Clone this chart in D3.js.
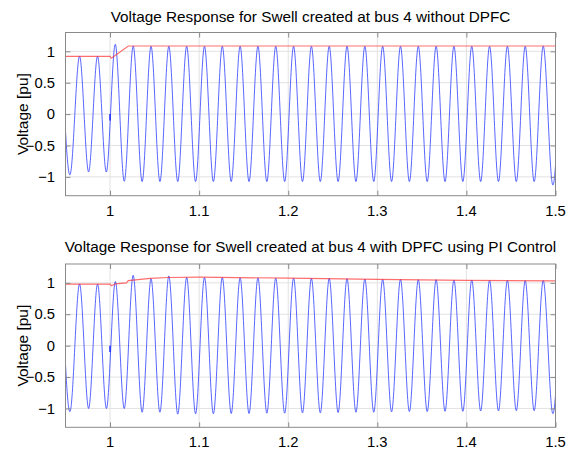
<!DOCTYPE html>
<html>
<head>
<meta charset="utf-8">
<script src="https://cdn.jsdelivr.net/npm/d3@7"></script>
<style>
  html, body { margin: 0; padding: 0; background: #fff; }
  svg { display: block; font-family: "Liberation Sans", Arial, Helvetica, sans-serif; }
</style>
</head>
<body>
<svg id="chart" width="572" height="451"></svg>
<script>
// Axis ticks
const xTicks = [1, 1.1, 1.2, 1.3, 1.4, 1.5];
const yTicks = [-1, -0.5, 0, 0.5, 1];
const xDomain = [0.95, 1.5];
const yDomain = [-1.3, 1.3];

const titles = [
  "Voltage Response for Swell created at bus 4 without DPFC",
  "Voltage Response for Swell created at bus 4 with DPFC using PI Control"
];
const yLabel = "Voltage [pu]";

// Instantaneous voltage: successive half-cycle extremes (50 Hz),
// first extreme at extremaStart, one every extremaStep seconds.
const extremaStart = 0.946;
const extremaStep = 0.01;

const waveWithout = [
  0.92, -0.92, 0.92, -0.92, 0.92, -0.92,
  1.11, -1.07, 1.085, -1.075, 1.08, -1.075, 1.08, -1.075, 1.08, -1.075,
  1.08, -1.075, 1.08, -1.075, 1.08, -1.075, 1.08, -1.075, 1.08, -1.075,
  1.08, -1.075, 1.08, -1.075, 1.08, -1.075, 1.08, -1.075, 1.08, -1.075,
  1.08, -1.075, 1.08, -1.075, 1.08, -1.075, 1.08, -1.075, 1.08, -1.075,
  1.08, -1.075, 1.08, -1.075, 1.08, -1.075, 1.08, -1.075, 1.08, -1.075,
  1.08
];

const waveWithPI = [
  0.98, -1.0, 0.98, -1.0, 0.98, -1.0,
  1.02, -1.0, 1.12, -1.06, 1.065, -1.06, 1.11, -1.09,
  1.085, -1.085, 1.085, -1.085, 1.085, -1.08, 1.08, -1.08, 1.08, -1.075,
  1.075, -1.075, 1.075, -1.07, 1.07, -1.07, 1.07, -1.065, 1.065, -1.06,
  1.06, -1.06, 1.055, -1.055, 1.055, -1.05, 1.05, -1.05, 1.05, -1.045,
  1.045, -1.045, 1.045, -1.04, 1.04, -1.04, 1.04, -1.035, 1.035, -1.035,
  1.035, -1.03, 1.03
];

// Switching transient at the fault instant
const spikeTime = 1.0;
const spikeLow = -0.1;

// RMS envelope (red)
const rmsWithoutT = [0.95, 1.0, 1.0015, 1.0205, 1.5];
const rmsWithoutV = [0.92, 0.92, 0.89, 1.085, 1.085];

const rmsWithPIT = [0.95, 1.0, 1.0015, 1.006, 1.0185, 1.0205, 1.045, 1.065, 1.1, 1.2, 1.3, 1.4, 1.5];
const rmsWithPIV = [0.98, 0.98, 0.955, 0.985, 1.0, 1.035, 1.07, 1.085, 1.09, 1.075, 1.055, 1.04, 1.03];

const panels = [
  { top: 32.5, bottom: 195.7, titleY: 21.5, tickY: 215.5,
    wave: waveWithout, rmsT: rmsWithoutT, rmsV: rmsWithoutV, title: titles[0] },
  { top: 264, bottom: 427.3, titleY: 252, tickY: 446.5,
    wave: waveWithPI, rmsT: rmsWithPIT, rmsV: rmsWithPIV, title: titles[1] }
];

const left = 65.5, right = 555.5;
const svg = d3.select("#chart");
const x = d3.scaleLinear().domain(xDomain).range([left, right]);
const frameColor = "#8a8a8a";
const gridColor = "#e2e2e2";

panels.forEach((p, k) => {
  const y = d3.scaleLinear().domain(yDomain).range([p.bottom, p.top]);
  const g = svg.append("g");

  const clipId = "clip" + k;
  svg.append("clipPath").attr("id", clipId)
    .append("rect").attr("x", left).attr("y", p.top)
    .attr("width", right - left).attr("height", p.bottom - p.top);

  // grid
  g.append("g").selectAll("line").data(xTicks).join("line")
    .attr("x1", d => x(d)).attr("x2", d => x(d))
    .attr("y1", p.top).attr("y2", p.bottom)
    .attr("stroke", gridColor).attr("stroke-width", 1);
  g.append("g").selectAll("line").data(yTicks).join("line")
    .attr("x1", left).attr("x2", right)
    .attr("y1", d => y(d)).attr("y2", d => y(d))
    .attr("stroke", gridColor).attr("stroke-width", 1);

  // waveform
  const pts = p.wave.map((v, i) => [extremaStart + i * extremaStep, v]);
  const waveLine = d3.line().x(d => x(d[0])).y(d => y(d[1])).curve(d3.curveNatural);
  const plot = g.append("g").attr("clip-path", `url(#${clipId})`);
  plot.append("path").attr("d", waveLine(pts))
    .attr("fill", "none").attr("stroke", "#2233ff").attr("stroke-width", 1)
    .attr("stroke-opacity", 0.75);
  plot.append("line")
    .attr("x1", x(spikeTime)).attr("x2", x(spikeTime))
    .attr("y1", y(0)).attr("y2", y(spikeLow))
    .attr("stroke", "#2233ff").attr("stroke-width", 1.6);

  // RMS envelope
  const rmsLine = d3.line().x(d => x(d[0])).y(d => y(d[1]));
  plot.append("path").attr("d", rmsLine(p.rmsT.map((t, i) => [t, p.rmsV[i]])))
    .attr("fill", "none").attr("stroke", "#ff2020").attr("stroke-width", 1.2)
    .attr("stroke-opacity", 0.65);

  // axes (ticks inside on all four sides)
  const axB = d3.axisBottom(x).tickValues(xTicks).tickSize(-5).tickFormat("");
  const axT = d3.axisTop(x).tickValues(xTicks).tickSize(-5).tickFormat("");
  const axL = d3.axisLeft(y).tickValues(yTicks).tickSize(-5).tickFormat("");
  const axR = d3.axisRight(y).tickValues(yTicks).tickSize(-5).tickFormat("");
  [[axB, `translate(0,${p.bottom})`], [axT, `translate(0,${p.top})`],
   [axL, `translate(${left},0)`], [axR, `translate(${right},0)`]].forEach(([ax, tr]) => {
    const a = g.append("g").attr("transform", tr).call(ax);
    a.select(".domain").remove();
    a.selectAll("line").attr("stroke", frameColor);
  });
  g.append("rect").attr("x", left).attr("y", p.top)
    .attr("width", right - left).attr("height", p.bottom - p.top)
    .attr("fill", "none").attr("stroke", frameColor).attr("stroke-width", 1);

  // tick labels
  g.append("g").selectAll("text").data(xTicks).join("text")
    .attr("x", d => x(d)).attr("y", p.tickY)
    .attr("text-anchor", "middle").attr("font-size", 14.8).attr("fill", "#000")
    .text(d => d3.format("")(d));
  g.append("g").selectAll("text").data(yTicks).join("text")
    .attr("x", 55).attr("y", d => y(d) + 5.2)
    .attr("text-anchor", "end").attr("font-size", 14.8).attr("fill", "#000")
    .text(d => d3.format("")(d));

  // y label
  g.append("text")
    .attr("transform", `translate(27.5,${(p.top + p.bottom) / 2}) rotate(-90)`)
    .attr("text-anchor", "middle").attr("font-size", 15.5).attr("fill", "#000")
    .text(yLabel);

  // title
  g.append("text").attr("x", (left + right) / 2).attr("y", p.titleY)
    .attr("text-anchor", "middle").attr("font-size", 15.3).attr("fill", "#000")
    .text(p.title);
});
</script>
</body>
</html>
